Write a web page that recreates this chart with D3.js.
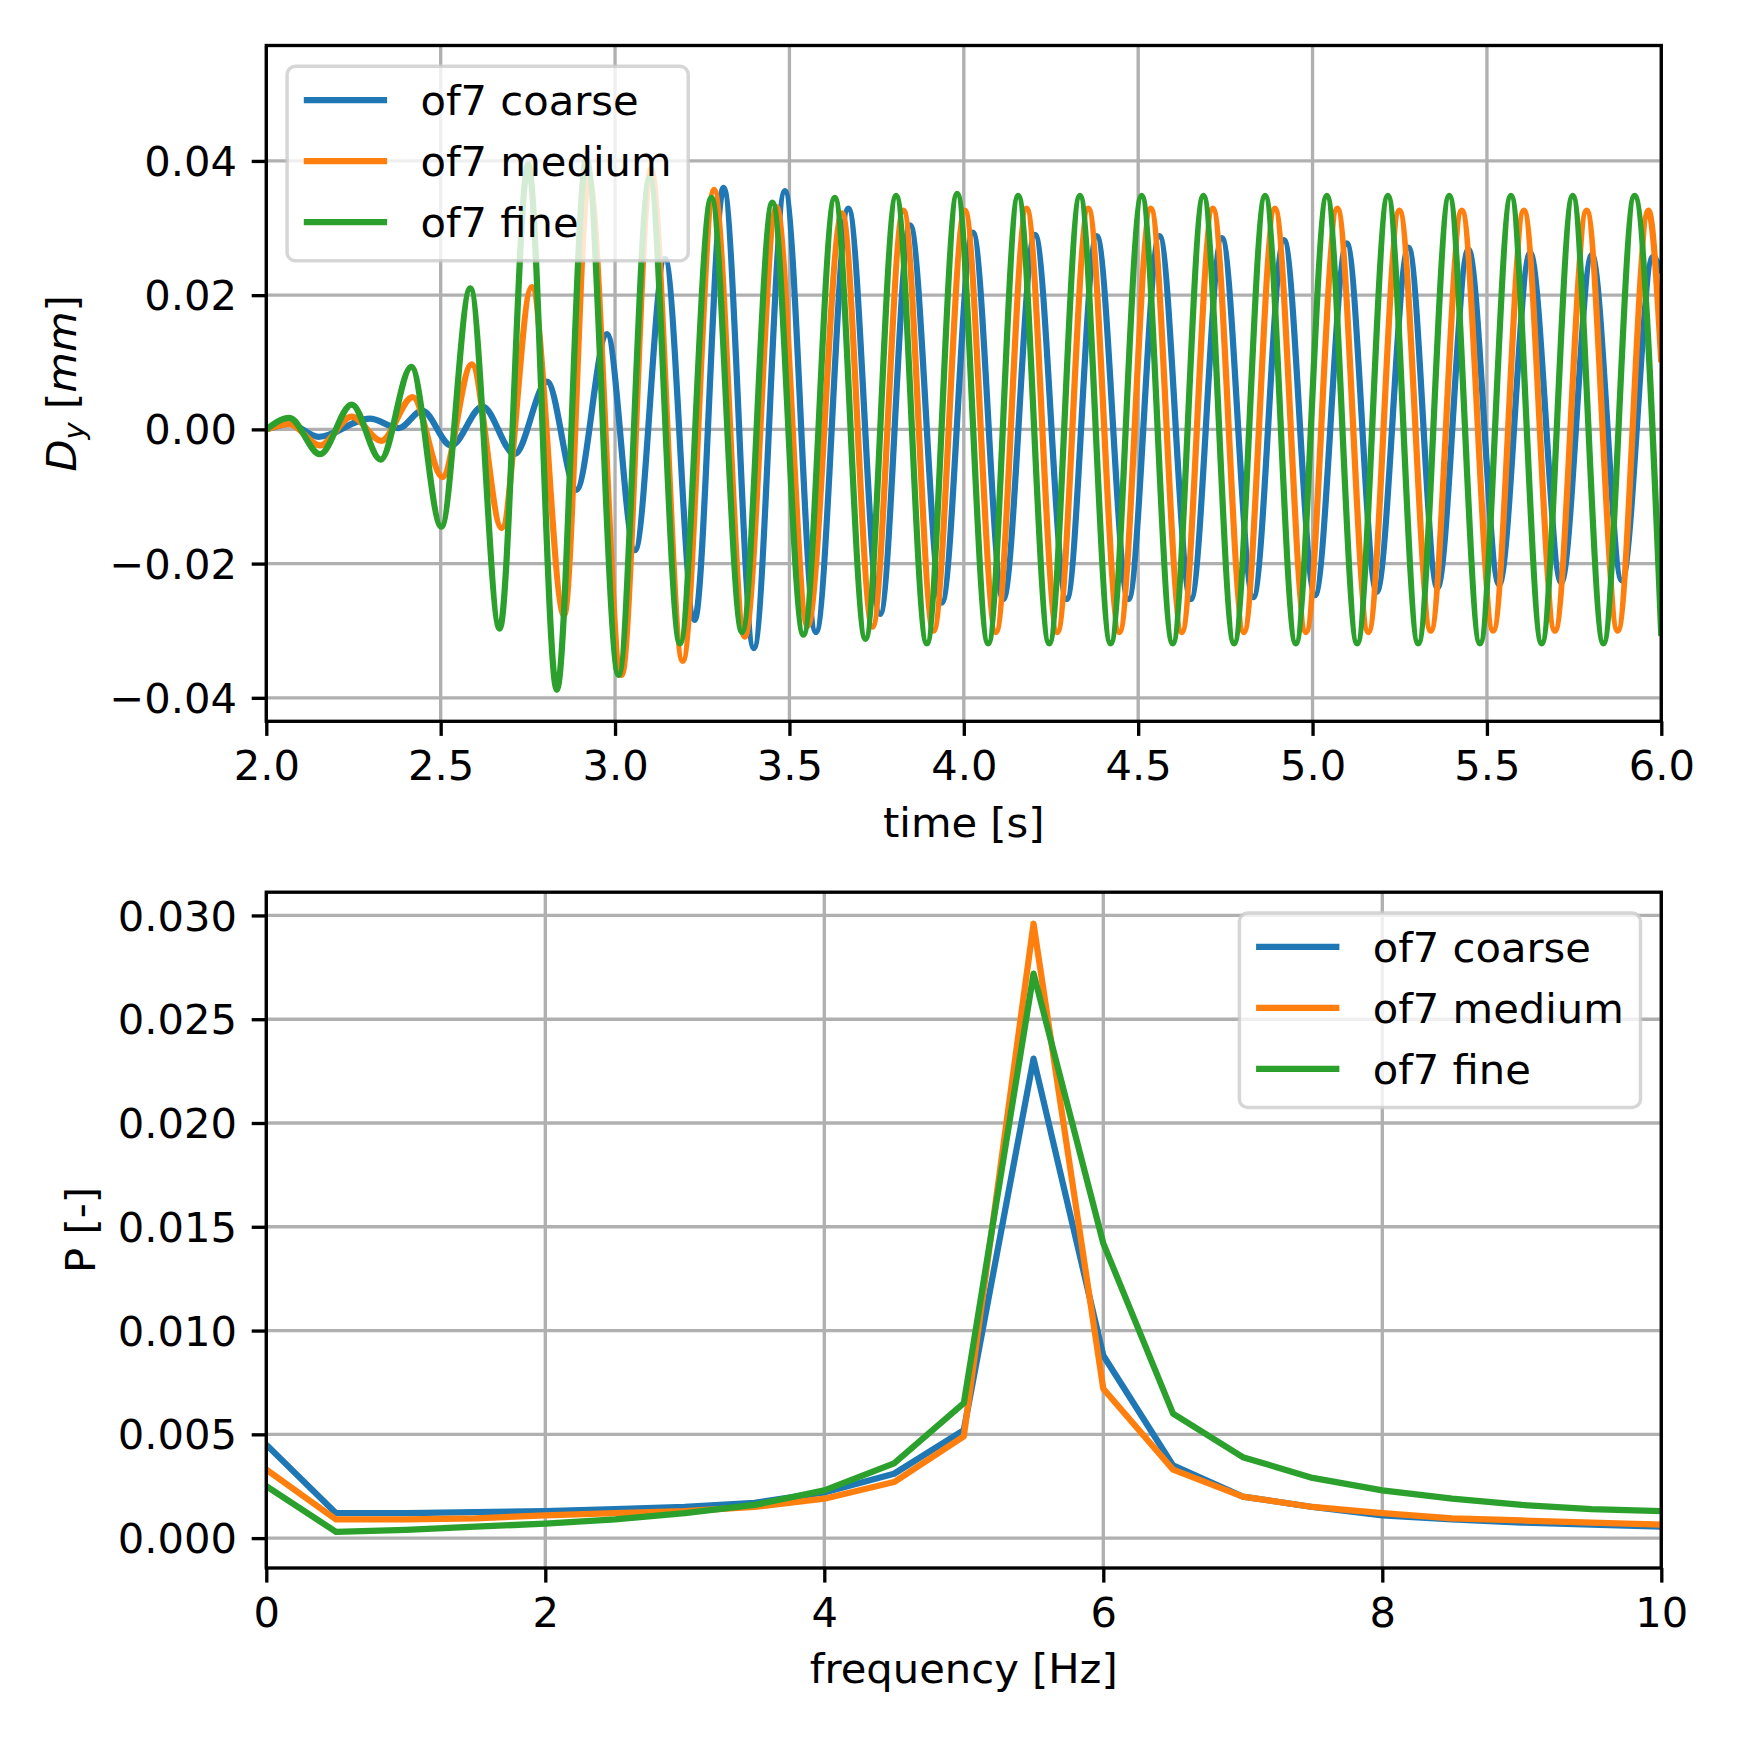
<!DOCTYPE html>
<html><head><meta charset="utf-8">
<script src="https://cdn.jsdelivr.net/npm/d3@7"></script>
<style>
html,body{margin:0;padding:0;background:#fff;}
svg{display:block;}
text{font-family:"DejaVu Sans",sans-serif;}
</style>
</head><body>
<script>
// ---------------- data ----------------
const seriesNames = ["of7 coarse", "of7 medium", "of7 fine"];
const seriesColors = ["#1f77b4", "#ff7f0e", "#2ca02c"];

// time signal, read as turning points (time [s], Dy [mm])
const coarseT = [2.000,2.067,2.150,2.297,2.380,2.447,2.530,2.620,2.712,2.805,2.889,2.977,3.057,3.143,3.228,3.311,3.398,3.487,3.576,3.669,3.760,3.846,3.937,4.026,4.113,4.204,4.295,4.381,4.472,4.561,4.651,4.740,4.830,4.918,5.007,5.098,5.184,5.275,5.358,5.447,5.535,5.624,5.713,5.801,5.887,5.976,6.000];
const coarseV = [0,0.0008,-0.0011,0.0016,0.0002,0.0028,-0.0024,0.0034,-0.0037,0.0071,-0.0090,0.0142,-0.0180,0.0254,-0.0284,0.0360,-0.0326,0.0355,-0.0302,0.0329,-0.0275,0.0304,-0.0258,0.0293,-0.0253,0.0290,-0.0253,0.0288,-0.0253,0.0288,-0.0253,0.0285,-0.0250,0.0282,-0.0247,0.0277,-0.0242,0.0271,-0.0236,0.0268,-0.0231,0.0263,-0.0228,0.0260,-0.0225,0.0257,0.0233];

const mediumT = [2.000,2.066,2.154,2.245,2.330,2.420,2.505,2.589,2.675,2.761,2.854,2.925,3.019,3.103,3.194,3.284,3.372,3.463,3.552,3.651,3.738,3.827,3.913,4.003,4.092,4.180,4.268,4.357,4.446,4.536,4.625,4.714,4.803,4.892,4.981,5.071,5.160,5.249,5.339,5.428,5.518,5.606,5.695,5.786,5.875,5.963,6.000];
const mediumV = [0,0.0008,-0.0024,0.0019,-0.0017,0.0048,-0.0071,0.0097,-0.0147,0.0212,-0.0277,0.0375,-0.0366,0.0388,-0.0345,0.0357,-0.0309,0.0331,-0.0293,0.0322,-0.0294,0.0326,-0.0300,0.0326,-0.0302,0.0329,-0.0302,0.0329,-0.0302,0.0329,-0.0302,0.0329,-0.0302,0.0329,-0.0302,0.0329,-0.0302,0.0326,-0.0300,0.0326,-0.0300,0.0326,-0.0300,0.0326,-0.0300,0.0326,0.0100];

const fineT = [2.000,2.066,2.154,2.245,2.328,2.416,2.502,2.585,2.669,2.751,2.833,2.918,3.010,3.099,3.186,3.276,3.364,3.451,3.540,3.630,3.718,3.806,3.894,3.981,4.070,4.156,4.245,4.333,4.421,4.510,4.599,4.687,4.775,4.864,4.952,5.041,5.128,5.216,5.303,5.392,5.480,5.569,5.657,5.746,5.834,5.923,6.000];
const fineV = [0,0.0017,-0.0037,0.0037,-0.0045,0.0093,-0.0145,0.0210,-0.0297,0.0395,-0.0388,0.0403,-0.0366,0.0375,-0.0319,0.0345,-0.0302,0.0338,-0.0306,0.0345,-0.0312,0.0348,-0.0319,0.0351,-0.0319,0.0348,-0.0319,0.0348,-0.0319,0.0348,-0.0319,0.0348,-0.0319,0.0348,-0.0319,0.0348,-0.0319,0.0348,-0.0319,0.0348,-0.0319,0.0348,-0.0319,0.0348,-0.0319,0.0348,-0.0308];

// spectrum
const freq = [0,0.5,1,1.5,2,2.5,3,3.5,4,4.5,5,5.5,6,6.5,7,7.5,8,8.5,9,9.5,10];
const psdCoarse = [0.0045,0.0012,0.0012,0.00125,0.0013,0.0014,0.0015,0.0017,0.0022,0.0031,0.0052,0.0231,0.0088,0.0035,0.0020,0.0015,0.0011,0.0009,0.00075,0.00065,0.00055];
const psdMedium = [0.0033,0.0009,0.0009,0.00095,0.0011,0.0012,0.0013,0.0015,0.0019,0.0027,0.0049,0.0296,0.0072,0.0033,0.0020,0.0015,0.0012,0.00095,0.00085,0.00075,0.00065];
const psdFine = [0.0025,0.0003,0.0004,0.00055,0.0007,0.0009,0.0012,0.0016,0.0023,0.0036,0.0065,0.0272,0.0142,0.0060,0.0039,0.0029,0.0023,0.0019,0.0016,0.0014,0.0013];

// ticks
const timeTicks = [2.0,2.5,3.0,3.5,4.0,4.5,5.0,5.5,6.0];
const dispTicks = [-0.04,-0.02,0.00,0.02,0.04];
const freqTicks = [0,2,4,6,8,10];
const psdTicks = [0.000,0.005,0.010,0.015,0.020,0.025,0.030];

// ---------------- layout ----------------
const W = 1740, H = 1740;
const FS = 41.67;          // 10pt at 300 dpi
const LW = 6.25;           // 1.5pt
const AXW = 3.33;          // 0.8pt
const TICK = 14.6, PAD = 14.6;

const svg = d3.select("body").append("svg").attr("width", W).attr("height", H)
  .attr("viewBox", `0 0 ${W} ${H}`);
svg.append("rect").attr("width", W).attr("height", H).attr("fill", "#fff");

function panel(opt) {
  const g = svg.append("g");
  const x = d3.scaleLinear().domain(opt.xDomain).range([opt.left, opt.right]);
  const y = d3.scaleLinear().domain(opt.yDomain).range([opt.bottom, opt.top]);
  const clipId = "clip" + opt.id;
  svg.append("clipPath").attr("id", clipId).append("rect")
    .attr("x", opt.left).attr("y", opt.top)
    .attr("width", opt.right - opt.left).attr("height", opt.bottom - opt.top);

  // grid
  const grid = g.append("g").attr("stroke", "#b0b0b0").attr("stroke-width", AXW);
  opt.xTicks.forEach(t => grid.append("line").attr("x1", x(t)).attr("x2", x(t))
    .attr("y1", opt.top).attr("y2", opt.bottom));
  opt.yTicks.forEach(t => grid.append("line").attr("y1", y(t)).attr("y2", y(t))
    .attr("x1", opt.left).attr("x2", opt.right));

  // data lines
  const lg = g.append("g").attr("clip-path", `url(#${clipId})`);
  opt.series.forEach((s, i) => {
    const pts = s.xs.map((v, k) => [v, s.ys[k]]);
    const line = d3.line().x(d => x(d[0])).y(d => y(d[1])).curve(opt.curve);
    lg.append("path").attr("d", line(pts)).attr("fill", "none")
      .attr("stroke", seriesColors[i]).attr("stroke-width", LW)
      .attr("stroke-linejoin", "round").attr("stroke-linecap", "butt");
  });

  // axes
  const xa = g.append("g").attr("transform", `translate(0,${opt.bottom})`)
    .call(d3.axisBottom(x).tickValues(opt.xTicks).tickFormat(opt.xFmt)
      .tickSize(TICK).tickPadding(PAD));
  const ya = g.append("g").attr("transform", `translate(${opt.left},0)`)
    .call(d3.axisLeft(y).tickValues(opt.yTicks).tickFormat(opt.yFmt)
      .tickSize(TICK).tickPadding(PAD));
  [xa, ya].forEach(a => {
    a.select(".domain").remove();
    a.selectAll(".tick line").attr("stroke", "#000").attr("stroke-width", AXW);
    a.selectAll(".tick text").attr("font-size", FS).attr("fill", "#000")
      .attr("font-family", "DejaVu Sans");
  });
  ya.selectAll(".tick text").attr("dy", "0.35em");

  // spines
  g.append("rect").attr("x", opt.left).attr("y", opt.top)
    .attr("width", opt.right - opt.left).attr("height", opt.bottom - opt.top)
    .attr("fill", "none").attr("stroke", "#000").attr("stroke-width", AXW);

  // x label
  g.append("text").attr("x", (opt.left + opt.right) / 2).attr("y", opt.xLabelY)
    .attr("text-anchor", "middle").attr("font-size", FS).text(opt.xLabel);

  // legend
  const lgd = g.append("g");
  const box = lgd.append("rect");
  const texts = [];
  seriesNames.forEach((n, i) => {
    texts.push(lgd.append("text").attr("font-size", FS).text(n));
  });
  const tw = d3.max(texts, t => t.node().getComputedTextLength());
  const bp = 16.7, hl = 83.3, htp = 33.3, rowStep = 61, firstRow = 33.8;
  const bw = bp * 2 + hl + htp + tw;
  const bh = 194.5;
  const bx = opt.legendRight ? opt.right - 20.8 - bw : opt.left + 20.8;
  const by = opt.top + 20.8;
  box.attr("x", bx).attr("y", by).attr("width", bw).attr("height", bh)
    .attr("rx", 8.3).attr("ry", 8.3)
    .attr("fill", "#fff").attr("fill-opacity", 0.8)
    .attr("stroke", "#cccccc").attr("stroke-opacity", 0.8).attr("stroke-width", 3.5);
  seriesNames.forEach((n, i) => {
    const cy = by + firstRow + i * rowStep;
    lgd.append("line").attr("x1", bx + bp).attr("x2", bx + bp + hl)
      .attr("y1", cy).attr("y2", cy).attr("stroke", seriesColors[i]).attr("stroke-width", LW);
    texts[i].attr("x", bx + bp + hl + htp).attr("y", cy + 15);
  });
  return g;
}

const smooth = d3.curveMonotoneX;

panel({
  id: "a", left: 266.3, right: 1661.3, top: 45.5, bottom: 721.3,
  xDomain: [2, 6], yDomain: [-0.0435, 0.0572],
  xTicks: timeTicks, yTicks: dispTicks,
  xFmt: d3.format(".1f"), yFmt: v => d3.format(".2f")(v).replace("-", "\u2212"),
  series: [{xs: coarseT, ys: coarseV}, {xs: mediumT, ys: mediumV}, {xs: fineT, ys: fineV}],
  curve: smooth, xLabel: "time [s]", xLabelY: 837, legendRight: false
});

panel({
  id: "b", left: 266.3, right: 1661.3, top: 892.2, bottom: 1568.0,
  xDomain: [0, 10], yDomain: [-0.00144, 0.03112],
  xTicks: freqTicks, yTicks: psdTicks,
  xFmt: d3.format("d"), yFmt: d3.format(".3f"),
  series: [{xs: freq, ys: psdCoarse}, {xs: freq, ys: psdMedium}, {xs: freq, ys: psdFine}],
  curve: d3.curveLinear, xLabel: "frequency [Hz]", xLabelY: 1683, legendRight: true
});

// y labels
const yl1 = svg.append("text").attr("font-size", FS).attr("text-anchor", "middle")
  .attr("transform", `translate(76,383.4) rotate(-90)`);
yl1.append("tspan").attr("font-style", "italic").text("D");
yl1.append("tspan").attr("font-style", "italic").attr("font-size", FS * 0.7)
  .attr("dy", FS * 0.2).text("y");
yl1.append("tspan").attr("dy", -FS * 0.2).text("\u00a0[");
yl1.append("tspan").attr("font-style", "italic").text("mm");
yl1.append("tspan").text("]");

svg.append("text").attr("font-size", FS).attr("text-anchor", "middle")
  .attr("transform", `translate(95,1230) rotate(-90)`).text("P [-]");
</script>
</body></html>
